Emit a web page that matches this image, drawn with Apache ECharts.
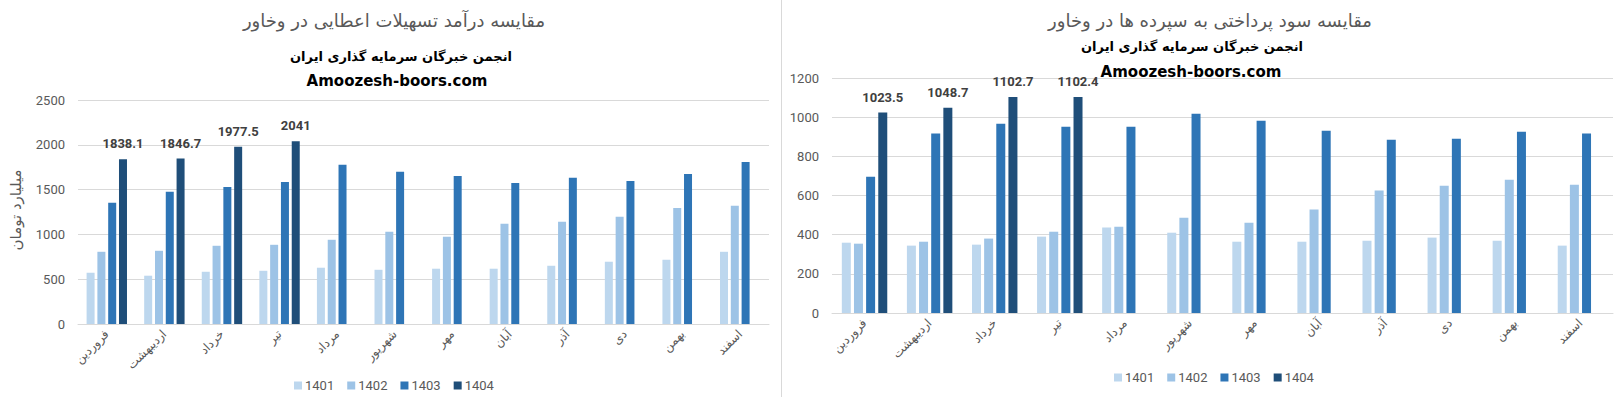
<!DOCTYPE html>
<html>
<head>
<meta charset="utf-8">
<script src="https://cdn.jsdelivr.net/npm/echarts@6.0.0/dist/echarts.min.js"></script>
<style>
html, body { margin: 0; padding: 0; background: #fff; }
#main { width: 1621px; height: 397px; }
</style>
</head>
<body>
<div id="main"></div>
<script>
// Categories and series
const months = ['فروردین', 'اردیبهشت', 'خرداد', 'تیر', 'مرداد', 'شهریور', 'مهر', 'آبان', 'آذر', 'دی', 'بهمن', 'اسفند'];
const years = ['1401', '1402', '1403', '1404'];

// Left chart: loan income (billion toman)
const income1401 = [572, 539, 583, 594, 628, 605, 617, 617, 650, 695, 717, 806];
const income1402 = [806, 817, 873, 884, 940, 1029, 973, 1118, 1140, 1196, 1296, 1319];
const income1403 = [1352, 1475, 1530, 1586, 1776, 1698, 1653, 1575, 1631, 1597, 1675, 1809];
const income1404 = [1838.1, 1846.7, 1977.5, 2041];

// Right chart: interest paid on deposits
const deposit1401 = [359, 344, 349, 390, 436, 410, 364, 364, 369, 385, 369, 344];
const deposit1402 = [354, 364, 380, 415, 441, 487, 461, 528, 625, 650, 681, 655];
const deposit1403 = [696, 916, 967, 951, 951, 1018, 982, 931, 885, 890, 926, 916];
const deposit1404 = [1023.5, 1048.7, 1102.7, 1102.4];

const titles = {
    left: 'مقایسه درآمد تسهیلات اعطایی در وخاور',
    right: 'مقایسه سود پرداختی به سپرده ها در وخاور',
    org: 'انجمن خبرگان سرمایه گذاری ایران',
    site: 'Amoozesh-boors.com',
    yName: 'میلیارد تومان'
};

const colors = ['#BDD7EE', '#9DC3E6', '#2E75B6', '#1F4E79'];
const gray = '#595959';
const gridColor = '#D9D9D9';
const arabicFont = 'DejaVu Sans';
const numFont = 'Roboto';

const chart = echarts.init(document.getElementById('main'), null, { renderer: 'svg' });

function titleItem(text, x, y, size, weight, color) {
    return {
        text: text,
        left: x,
        top: y,
        textAlign: 'center',
        padding: 0,
        textStyle: { fontFamily: arabicFont, fontSize: size, fontWeight: weight, color: color }
    };
}

function xAxisFor(gridIndex) {
    return {
        type: 'category',
        gridIndex: gridIndex,
        data: months,
        axisTick: { show: false },
        axisLine: { lineStyle: { color: gridColor, width: 1 } },
        axisLabel: {
            interval: 0,
            rotate: 45,
            margin: 8,
            color: gray,
            fontSize: 12,
            fontFamily: arabicFont
        }
    };
}

function yAxisFor(gridIndex, max, interval) {
    return {
        type: 'value',
        gridIndex: gridIndex,
        min: 0,
        max: max,
        interval: interval,
        axisLine: { show: false },
        axisTick: { show: false },
        axisLabel: {
            color: gray, fontSize: 13, fontFamily: numFont, margin: 13,
            formatter: v => String(v)
        },
        splitLine: { lineStyle: { color: gridColor, width: 1 } }
    };
}

function barSeries(name, data, axisIndex, width, color, withLabel) {
    const s = {
        name: name,
        type: 'bar',
        xAxisIndex: axisIndex,
        yAxisIndex: axisIndex,
        data: data,
        barWidth: width,
        barGap: '35%',
        itemStyle: { color: color },
        emphasis: { disabled: true }
    };
    if (withLabel) {
        s.label = {
            show: true,
            position: 'top',
            distance: 9,
            fontFamily: numFont,
            fontWeight: 'bold',
            fontSize: 13,
            color: '#404040'
        };
    }
    return s;
}

function legendFor(x, y) {
    return {
        data: years,
        left: x,
        top: y,
        icon: 'rect',
        itemWidth: 8,
        itemHeight: 8,
        itemGap: 13,
        textStyle: { color: gray, fontSize: 13, fontFamily: numFont, padding: [0, 0, 0, -2] }
    };
}

const option = {
    animation: false,
    title: [
        titleItem(titles.left, 394, 11, 18, 'normal', gray),
        titleItem(titles.org, 401, 50, 13, 'bold', '#000'),
        titleItem(titles.site, 397, 73, 15, 'bold', '#000'),
        titleItem(titles.right, 1210, 11, 18, 'normal', gray),
        titleItem(titles.org, 1192, 40, 13, 'bold', '#000'),
        titleItem(titles.site, 1191, 64, 15, 'bold', '#000')
    ],
    legend: [legendFor(289, 374), legendFor(1109, 366)],
    grid: [
        { left: 78, right: 852, top: 100, bottom: 73 },
        { left: 832, right: 8, top: 78, bottom: 84 }
    ],
    xAxis: [xAxisFor(0), xAxisFor(1)],
    yAxis: [yAxisFor(0, 2500, 500), yAxisFor(1, 1200, 200)],
    graphic: [
        {
            type: 'line',
            shape: { x1: 781.5, y1: 0, x2: 781.5, y2: 397 },
            style: { stroke: gridColor, lineWidth: 1 }
        },
        {
            type: 'text',
            x: 16,
            y: 210,
            rotation: Math.PI / 2,
            style: {
                text: titles.yName,
                align: 'center',
                verticalAlign: 'middle',
                fill: gray,
                fontSize: 15,
                fontFamily: arabicFont
            }
        }
    ],
    series: [
        barSeries(years[0], income1401, 0, 8, colors[0], false),
        barSeries(years[1], income1402, 0, 8, colors[1], false),
        barSeries(years[2], income1403, 0, 8, colors[2], false),
        barSeries(years[3], income1404, 0, 8, colors[3], true),
        barSeries(years[0], deposit1401, 1, 9, colors[0], false),
        barSeries(years[1], deposit1402, 1, 9, colors[1], false),
        barSeries(years[2], deposit1403, 1, 9, colors[2], false),
        barSeries(years[3], deposit1404, 1, 9, colors[3], true)
    ]
};

chart.setOption(option);
</script>
</body>
</html>
